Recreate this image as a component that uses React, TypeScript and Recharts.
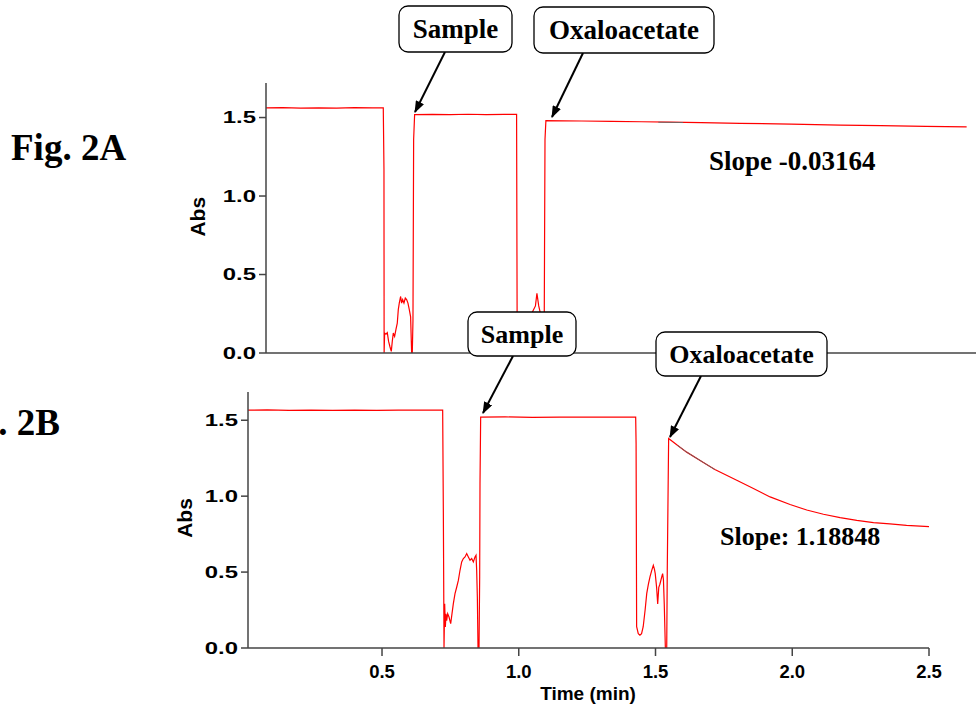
import React from "react";
import { LineChart, Line, XAxis, YAxis } from "recharts";

// ---- Fig. 2A (top panel) ----
const topTime = [
  0.344, 0.4, 0.46, 0.52, 0.58, 0.64, 0.7, 0.7362, 0.7385, 0.739, 0.7407, 0.7452, 0.7496, 0.754, 0.7585,
  0.763, 0.7663, 0.7697, 0.7741, 0.7786, 0.783, 0.7864, 0.7897, 0.7942, 0.7975, 0.8009, 0.8053, 0.8098,
  0.8143, 0.8187, 0.8232, 0.8276, 0.831, 0.8332, 0.8355, 0.8377, 0.841, 0.9, 0.96, 1.02, 1.08, 1.14, 1.182,
  1.184, 1.2, 1.215, 1.232, 1.245, 1.25, 1.256, 1.262, 1.27, 1.274, 1.277, 1.28, 1.4, 1.5, 1.6, 1.695, 1.8,
  1.929, 2.1, 2.264, 2.4, 2.55, 2.687,
];
const topAbs = [
  1.561, 1.563, 1.56, 1.562, 1.56, 1.563, 1.561, 1.561, 1.168, 0.0, 0.127, 0.12, 0.13, 0.074, 0.04,
  0.01, 0.074, 0.127, 0.106, 0.15, 0.19, 0.276, 0.318, 0.36, 0.318, 0.34, 0.318, 0.35,
  0.34, 0.318, 0.276, 0.23, 0.0, 0.0, 0.21, 1.36, 1.518, 1.52, 1.518, 1.521, 1.519, 1.52, 1.52,
  0.05, 0.08, 0.12, 0.25, 0.3, 0.38, 0.3, 0.25, 0.1, 0.0, 1.36, 1.48, 1.478, 1.476, 1.473, 1.471, 1.467,
  1.463, 1.458, 1.452, 1.448, 1.444, 1.44,
];
const topFitTime = [1.656, 1.739];
const topFitAbs = [1.470, 1.468];
const topTicks = [0.5, 1.0, 1.5, 2.0, 2.5];
const topYTicks = [0, 0.5, 1.0, 1.5];

// ---- Fig. 2B (bottom panel) ----
const botTime = [
  0.01, 0.08, 0.16, 0.24, 0.32, 0.4, 0.48, 0.56, 0.64, 0.7218, 0.7243, 0.7267, 0.7291, 0.7316, 0.734, 0.7364,
  0.7401, 0.745, 0.7511, 0.7559, 0.7608, 0.7669, 0.773, 0.7791, 0.7852, 0.7913, 0.7974, 0.8035, 0.8096,
  0.8157, 0.8218, 0.8279, 0.8339, 0.84, 0.8437, 0.8461, 0.8486, 0.851, 0.8547, 0.8571, 0.8583, 0.8607,
  0.95, 1.05, 1.15, 1.25, 1.35, 1.4275, 1.429, 1.431, 1.437, 1.443, 1.449, 1.455, 1.462, 1.468, 1.474, 1.48,
  1.486, 1.492, 1.496, 1.499, 1.504, 1.508, 1.512, 1.516, 1.523, 1.526, 1.529, 1.532, 1.536, 1.541, 1.543,
  1.548, 1.58, 1.614, 1.675, 1.717, 1.797, 1.858, 1.919, 1.992, 2.053, 2.114, 2.175, 2.236, 2.297, 2.357,
  2.418, 2.5,
];
const botAbs = [
  1.566, 1.568, 1.565, 1.567, 1.565, 1.567, 1.565, 1.567, 1.566, 1.566, 0.885, 0.0, 0.292, 0.138, 0.226, 0.18,
  0.226, 0.204, 0.16, 0.226, 0.292, 0.358, 0.4, 0.445, 0.512, 0.567, 0.589, 0.6, 0.622,
  0.6, 0.578, 0.589, 0.567, 0.6, 0.611, 0.512, 0.336, 0.0, 0.0, 0.47, 1.083, 1.52,
  1.522, 1.519, 1.521, 1.52, 1.521, 1.52, 1.346, 0.14, 0.095, 0.084, 0.095, 0.14, 0.25, 0.36, 0.42, 0.47,
  0.51, 0.545, 0.52, 0.49, 0.4, 0.29, 0.4, 0.42, 0.47, 0.49, 0.45, 0.29, 0.0, 0.0, 0.51,
  1.38, 1.335, 1.29, 1.222, 1.175, 1.105, 1.05, 0.995, 0.945, 0.909, 0.881, 0.859, 0.841, 0.826, 0.817,
  0.808, 0.8,
];
const botFitTime = [1.58, 1.614, 1.675, 1.717];
const botFitAbs = [1.335, 1.29, 1.222, 1.175];
const botTicks = [0.5, 1.0, 1.5, 2.0, 2.5];
const botYTicks = [0, 0.5, 1.0, 1.5];

const toRows = (xs: number[], ys: number[]) => xs.map((t, i) => ({ t, v: ys[i] }));

const topData = toRows(topTime, topAbs);
const topFit = toRows(topFitTime, topFitAbs);
const botData = toRows(botTime, botAbs);
const botFit = toRows(botFitTime, botFitAbs);

const SANS = "'Liberation Sans', Arial, sans-serif";
const SERIF = "'Liberation Serif', 'Times New Roman', serif";
const AXIS = "#444";

const YTick = (props: any) => {
  const { x, y, payload } = props;
  return (
    <g transform={`translate(${x},${y})`}>
      <text
        x={0}
        y={0}
        dy="0.36em"
        textAnchor="end"
        transform="scale(1.45,1)"
        fontFamily={SANS}
        fontWeight="bold"
        fontSize={16.5}
        fill="#000"
      >
        {Number(payload.value).toFixed(1)}
      </text>
    </g>
  );
};

const XTick = (props: any) => {
  const { x, y, payload } = props;
  return (
    <text
      x={x}
      y={y}
      dy="0.71em"
      textAnchor="middle"
      fontFamily={SANS}
      fontWeight="bold"
      fontSize={18.5}
      fill="#000"
    >
      {Number(payload.value).toFixed(1)}
    </text>
  );
};

const Box = ({ x, y, w, h, label, size }: any) => (
  <g>
    <rect x={x} y={y} width={w} height={h} rx={9} ry={9} fill="#fff" stroke="#000" strokeWidth={1.3} />
    <text
      x={x + w / 2}
      y={y + h / 2 + size * 0.33}
      textAnchor="middle"
      fontFamily={SERIF}
      fontWeight="bold"
      fontSize={size}
      fill="#000"
    >
      {label}
    </text>
  </g>
);

const Arrow = ({ x1, y1, x2, y2 }: any) => (
  <line x1={x1} y1={y1} x2={x2} y2={y2} stroke="#000" strokeWidth={2} markerEnd="url(#ah)" />
);

export default function App() {
  return (
    <div
      style={{
        position: "absolute",
        left: 0,
        top: 0,
        width: 976,
        height: 708,
        overflow: "hidden",
        background: "#fff",
      }}
    >
      {/* Top panel */}
      <div style={{ position: "absolute", left: 0, top: 0 }}>
        <LineChart width={1010} height={400} data={topData} margin={{ top: 83, right: 0, bottom: 0, left: 206 }}>
          <XAxis
            dataKey="t"
            type="number"
            domain={[0.344, 2.832]}
            allowDataOverflow
            ticks={topTicks}
            tick={false}
            tickSize={8}
            height={47}
            axisLine={{ stroke: AXIS, strokeWidth: 1.5 }}
            tickLine={{ stroke: AXIS, strokeWidth: 1.5 }}
          />
          <YAxis
            type="number"
            domain={[0, 1.72]}
            allowDataOverflow
            ticks={topYTicks}
            width={60}
            tickSize={7}
            tickMargin={3}
            tick={<YTick />}
            axisLine={{ stroke: AXIS, strokeWidth: 1.5 }}
            tickLine={{ stroke: AXIS, strokeWidth: 1.5 }}
          />
          <Line data={topData} dataKey="v" type="linear" stroke="#ff0000" strokeWidth={1.2} dot={false} isAnimationActive={false} />
          <Line data={topFit} dataKey="v" type="linear" stroke="#666" strokeWidth={0.9} dot={false} isAnimationActive={false} />
        </LineChart>
      </div>

      {/* Bottom panel */}
      <div style={{ position: "absolute", left: 0, top: 0 }}>
        <LineChart width={976} height={708} data={botData} margin={{ top: 392, right: 47, bottom: 0, left: 188 }}>
          <XAxis
            dataKey="t"
            type="number"
            domain={[0.01, 2.5]}
            allowDataOverflow
            ticks={botTicks}
            tick={<XTick />}
            tickSize={8}
            tickMargin={9}
            height={60}
            axisLine={{ stroke: AXIS, strokeWidth: 1.5 }}
            tickLine={{ stroke: AXIS, strokeWidth: 1.5 }}
          />
          <YAxis
            type="number"
            domain={[0, 1.686]}
            allowDataOverflow
            ticks={botYTicks}
            width={60}
            tickSize={7}
            tickMargin={3}
            tick={<YTick />}
            axisLine={{ stroke: AXIS, strokeWidth: 1.5 }}
            tickLine={{ stroke: AXIS, strokeWidth: 1.5 }}
          />
          <Line data={botData} dataKey="v" type="linear" stroke="#ff0000" strokeWidth={1.2} dot={false} isAnimationActive={false} />
          <Line data={botFit} dataKey="v" type="linear" stroke="#666" strokeWidth={0.9} dot={false} isAnimationActive={false} />
        </LineChart>
      </div>

      {/* Annotations */}
      <svg width={976} height={708} style={{ position: "absolute", left: 0, top: 0, pointerEvents: "none" }}>
        <defs>
          <marker id="ah" markerUnits="userSpaceOnUse" markerWidth={12} markerHeight={9} refX={11} refY={4.5} orient="auto">
            <path d="M0,0 L12,4.5 L0,9 z" fill="#000" />
          </marker>
        </defs>

        <text x={11} y={160} fontFamily={SERIF} fontWeight="bold" fontSize={37} fill="#000">
          Fig. 2A
        </text>
        <text x={60} y={435} textAnchor="end" fontFamily={SERIF} fontWeight="bold" fontSize={37} fill="#000">
          Fig. 2B
        </text>

        <text
          transform="translate(197.5,216.7) rotate(-90)"
          textAnchor="middle"
          dy="0.36em"
          fontFamily={SANS}
          fontWeight="bold"
          fontSize={21}
          fill="#000"
        >
          Abs
        </text>
        <text
          transform="translate(184,518) rotate(-90)"
          textAnchor="middle"
          dy="0.36em"
          fontFamily={SANS}
          fontWeight="bold"
          fontSize={21}
          fill="#000"
        >
          Abs
        </text>
        <text x={588} y={700} textAnchor="middle" fontFamily={SANS} fontWeight="bold" fontSize={19} fill="#000">
          Time (min)
        </text>

        <text x={709} y={170} fontFamily={SERIF} fontWeight="bold" fontSize={27} fill="#000">
          Slope -0.03164
        </text>
        <text x={720} y={545} fontFamily={SERIF} fontWeight="bold" fontSize={26} fill="#000">
          Slope: 1.18848
        </text>

        <Arrow x1={445} y1={52} x2={415} y2={112} />
        <Arrow x1={583} y1={53} x2={552} y2={117} />
        <Arrow x1={513} y1={356} x2={483} y2={413} />
        <Arrow x1={701} y1={376} x2={670} y2={437} />

        <Box x={399} y={6} w={113} h={46} label="Sample" size={27} />
        <Box x={534} y={7} w={180} h={46} label="Oxaloacetate" size={27} />
        <Box x={468} y={312} w={108} h={44} label="Sample" size={26} />
        <Box x={656} y={332} w={171} h={44} label="Oxaloacetate" size={26} />
      </svg>
    </div>
  );
}
